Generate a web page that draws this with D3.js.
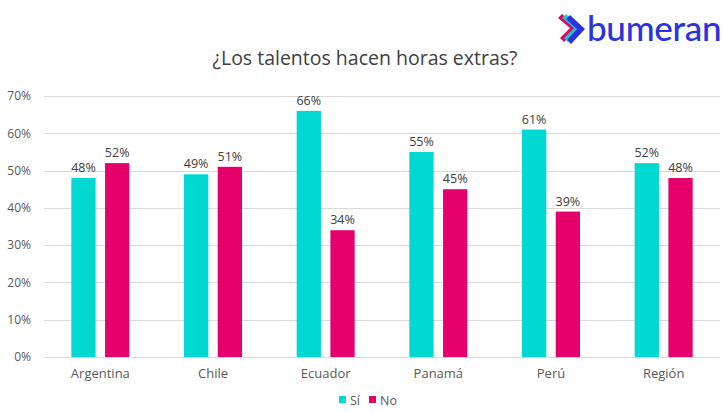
<!DOCTYPE html>
<html><head><meta charset="utf-8">
<script src="https://cdn.jsdelivr.net/npm/d3@7"></script>
<style>body{margin:0;background:#fff}svg{display:block}</style>
</head><body><svg id="c" width="726" height="413"></svg>
<script>
const categories = ["Argentina","Chile","Ecuador","Panamá","Perú","Región"];
const seriesNames = ["Sí","No"];
const si = [48,49,66,55,61,52];
const no = [52,51,34,45,39,48];
const yTicks = [0,10,20,30,40,50,60,70];
const colors = ["#00d9d2","#e6006b"];
const title = "¿Los talentos hacen horas extras?";

const svg = d3.select("#c");
const font = "'Open Sans', Lato, sans-serif";
const m = {l:44, r:6, t:96, b:56};
const W = 726, H = 413;
const x = d3.scaleBand().domain(categories).range([m.l, W-m.r]);
const y = d3.scaleLinear().domain([0,70]).range([H-m.b, m.t]);
const x1 = d3.scaleBand().domain(seriesNames).range([x.bandwidth()/2-29, x.bandwidth()/2+29]).paddingInner(0.28);

svg.append("g").selectAll("line").data(yTicks).join("line")
  .attr("x1", m.l).attr("x2", W-m.r)
  .attr("y1", d=>Math.round(y(d))+0.5).attr("y2", d=>Math.round(y(d))+0.5)
  .attr("stroke","#d9d9d9").attr("stroke-width",1);

const yAxis = d3.axisLeft(y).tickValues(yTicks).tickFormat(d=>d+"%").tickSize(0).tickPadding(0);
const ga = svg.append("g").attr("transform",`translate(${m.l-13},0)`).call(yAxis);
ga.select(".domain").remove();
ga.selectAll("text").attr("font-family",font).attr("font-size",12).attr("fill","#595959");

const xAxis = d3.axisBottom(x).tickSize(0).tickPadding(0);
const gx = svg.append("g").attr("transform",`translate(0,${H-m.b+12})`).call(xAxis);
gx.select(".domain").remove();
gx.selectAll("text").attr("font-family",font).attr("font-size",13).attr("fill","#595959").attr("dy","0.68em");

const data = categories.map((c,i)=>({c, vals:[{s:"Sí",v:si[i]},{s:"No",v:no[i]}]}));
const g = svg.append("g").selectAll("g").data(data).join("g")
  .attr("transform", d=>`translate(${x(d.c)},0)`);
g.selectAll("rect").data(d=>d.vals).join("rect")
  .attr("x", d=>x1(d.s)).attr("width", x1.bandwidth())
  .attr("y", d=>y(d.v)).attr("height", d=>y(0)-y(d.v))
  .attr("fill", (d,i)=>colors[i]);
g.selectAll("text").data(d=>d.vals).join("text")
  .attr("x", d=>x1(d.s)+x1.bandwidth()/2).attr("y", d=>y(d.v)-6)
  .attr("text-anchor","middle").attr("font-family",font).attr("font-size",12.5).attr("fill","#404040")
  .text(d=>d.v+"%");

svg.append("text").attr("x",365).attr("y",65).attr("text-anchor","middle")
  .attr("font-family",font).attr("font-size",19.5).attr("fill","#404040").text(title);

const lg = svg.append("g").attr("transform","translate(339,400)");
const items = [{n:"Sí",c:colors[0],x:0},{n:"No",c:colors[1],x:30}];
items.forEach(it=>{
  lg.append("rect").attr("x",it.x).attr("y",-4).attr("width",7).attr("height",7).attr("fill",it.c);
  lg.append("text").attr("x",it.x+11).attr("y",4.5).attr("font-family",font).attr("font-size",12.5).attr("fill","#595959").text(it.n);
});

const logo = svg.append("g").attr("transform","translate(560,14)");
logo.append("path").attr("d","M2,0 L18,14 L4,28 L0,24 L10,14 L-2,4 Z").attr("fill","#e6005f");
logo.append("path").attr("d","M6,0 L22,14 L8,28 L4,24 L14,14 L2,4 Z").attr("fill","#00d9d2").attr("opacity",0.9);
logo.append("path").attr("d","M10,1 L25,15 L11,30 L7,26 L17,15 L6,5 Z").attr("fill","#2a33e0");
logo.append("text").attr("x",27).attr("y",27).attr("font-family","Lato, 'Open Sans', sans-serif").attr("font-size",35)
  .attr("font-weight",500).attr("fill","#2a33e0").attr("letter-spacing",-0.3).text("bumeran");
</script></body></html>
